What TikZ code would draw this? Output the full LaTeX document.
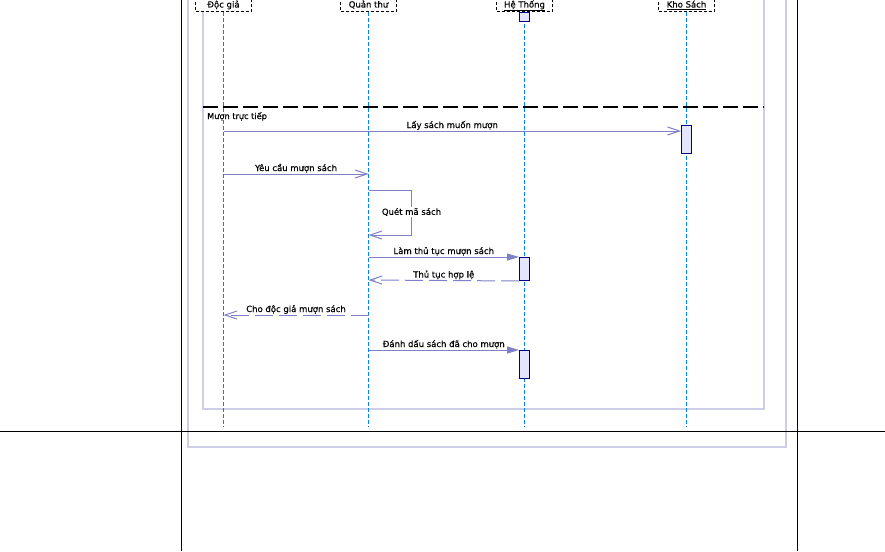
\documentclass[tikz,border=0pt]{standalone}
\usepackage{fontspec}
\setmainfont[FakeBold=0.35]{DejaVu Sans}
\usetikzlibrary{arrows.meta}
\definecolor{msgc}{RGB}{128,128,200}
\definecolor{frmc}{RGB}{206,206,232}
\definecolor{lifec}{RGB}{0,128,255}
\definecolor{actb}{RGB}{0,0,128}
\definecolor{actf}{RGB}{228,228,250}
\tikzset{
  headbox/.style={draw=black, dash pattern=on 3pt off 2pt, line width=1pt, fill=white,
    anchor=south, minimum width=56pt, inner xsep=2pt, inner ysep=2pt,
    text height=20pt, text depth=2pt, font=\fontsize{8.5}{10}\selectfont},
  lifeline/.style={lifec, line width=1pt, dash pattern=on 4pt off 2pt},
  actbox/.style={draw=actb, fill=actf, line width=1pt, minimum width=10pt, inner sep=0pt, anchor=north},
  msgline/.style={msgc, line width=1pt},
  openarr/.style={-{Straight Barb[length=12pt,width=8pt]}},
  fillarr/.style={-{Triangle[length=12pt,width=7pt]}},
  retline/.style={dash pattern=on 18pt off 6pt},
  lbl/.style={text=black, anchor=base, yshift=3pt, inner sep=0pt, font=\fontsize{8.5}{10}\selectfont},
  frameline/.style={frmc, line width=1.2pt}
}
\begin{document}
\begin{tikzpicture}[x=1pt,y=-1pt]
\useasboundingbox (0,0) rectangle (885,551);
\fill[white] (0,0) rectangle (885,551);
% frames
\draw[frameline] (188,-5) -- (188,447) -- (786,447) -- (786,-5);
\draw[frameline] (203,-5) -- (203,409) -- (764,409) -- (764,-5);
% black page lines
\draw[line width=1pt] (181,0) -- (181,551);
\draw[line width=1pt] (797,0) -- (797,551);
\draw[line width=1pt] (0,431) -- (885,431);
% heads
\node[headbox] (dg) at (223.5,12) {Độc giả};
\node[headbox] (qt) at (368.5,12) {Quản thư};
\node[headbox] (ht) at (524.5,12) {\underline{Hệ Thống}};
\node[headbox] (ks) at (686.5,12) {\underline{Kho Sách}};
% lifeline ends
\coordinate (dgE) at (223.5,427);
\coordinate (qtE) at (368.5,427);
\coordinate (htE) at (524.5,427);
\coordinate (ksE) at (686.5,427);
\draw[lifeline] (dg.south) -- (dgE);
\draw[lifeline] (qt.south) -- (qtE);
\draw[lifeline] (ht.south) -- (htE);
\draw[lifeline] (ks.south) -- (ksE);
% fragment separator
\coordinate (sepL) at (203,107);
\coordinate (sepR) at (764,107);
\draw[black, line width=1.3pt, dash pattern=on 15pt off 5pt] (sepL) -- (sepR);
\node[anchor=base west, inner sep=0pt, font=\fontsize{8.2}{10}\selectfont] (frag) at (207,119) {Mượn trực tiếp};
% activations
\node[actbox, minimum height=9pt] (ht0) at (524.5,12) {};
\node[actbox, minimum height=28pt] (ks1) at (686.5,125) {};
\node[actbox, minimum height=23pt] (ht1) at (524.5,257) {};
\node[actbox, minimum height=28pt] (ht2) at (524.5,350) {};
% message points
\coordinate (dg1) at (223.5,131);
\coordinate (dg2) at (223.5,174);
\coordinate (qt2) at (368.5,174);
\coordinate (qt3a) at (368.5,190);
\coordinate (lp1) at (411,190);
\coordinate (lp2) at (411,235);
\coordinate (qt3b) at (368.5,235);
\coordinate (qt4) at (368.5,257);
\coordinate (qt5) at (368.5,280);
\coordinate (qt6) at (368.5,315);
\coordinate (dg6) at (223.5,315);
\coordinate (qt7) at (368.5,350);
% messages
\draw[msgline, openarr] (dg1) -- node[lbl] {Lấy sách muốn mượn} (dg1 -| ks1.west);
\draw[msgline, openarr] (dg2) -- node[lbl] {Yêu cầu mượn sách} (qt2);
\draw[msgline, openarr] (qt3a) -- (lp1) -- (lp2) -- (qt3b);
\node[fill=white, inner sep=1pt, font=\fontsize{8.5}{10}\selectfont] (lpl) at (411.5,212) {Quét mã sách};
\draw[msgline, fillarr] (qt4) -- node[lbl] {Làm thủ tục mượn sách} (ht1.north west);
\draw[msgline, openarr, retline] (ht1.south west) -- node[lbl] {Thủ tục hợp lệ} (qt5);
\draw[msgline, openarr, retline] (qt6) -- node[lbl] {Cho độc giả mượn sách} (dg6);
\draw[msgline, fillarr] (qt7) -- node[lbl] {Đánh dấu sách đã cho mượn} (ht2.north west);
\end{tikzpicture}
\end{document}
